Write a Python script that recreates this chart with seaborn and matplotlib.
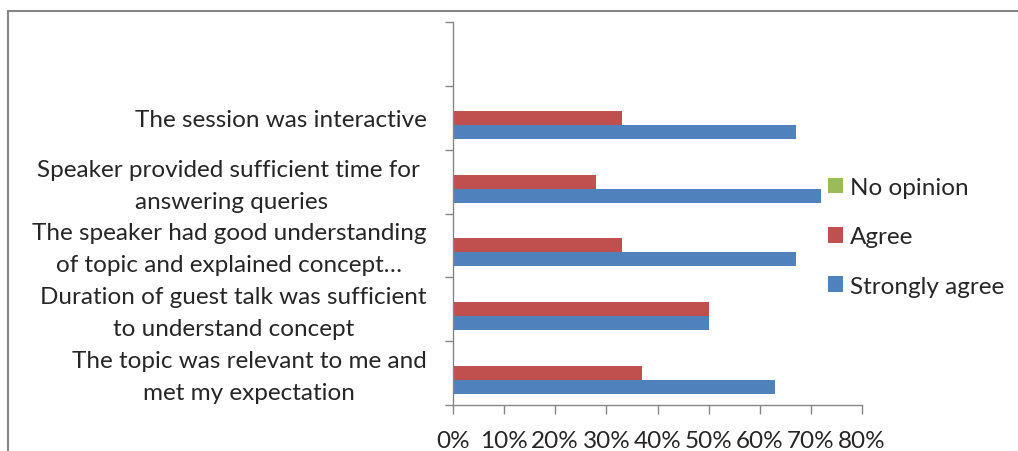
import matplotlib
matplotlib.use("Agg")
import matplotlib.pyplot as plt
import seaborn as sns
import pandas as pd
from matplotlib.lines import Line2D
from matplotlib.patches import Patch
from matplotlib.ticker import FixedLocator, PercentFormatter
from matplotlib.transforms import ScaledTranslation

# ---- data (top to bottom) ----
questions = [
    "The session was interactive",
    "Speaker provided sufficient time for \nanswering queries",
    "The speaker had good understanding\nof topic and explained concept…",
    "Duration of guest talk was sufficient\nto understand concept",
    "The topic was relevant to me and\nmet my expectation",
]
strongly_agree = [0.67, 0.72, 0.67, 0.50, 0.63]
agree = [0.33, 0.28, 0.33, 0.50, 0.37]
no_opinion = [0.0, 0.0, 0.0, 0.0, 0.0]
series_names = ["No opinion", "Agree", "Strongly agree"]
series_colors = ["#9BBB59", "#C0504D", "#4F81BD"]
x_ticks = [0.0, 0.1, 0.2, 0.3, 0.4, 0.5, 0.6, 0.7, 0.8]

rows = []
for q, n, a, s in zip(questions, no_opinion, agree, strongly_agree):
    rows.append((q, "No opinion", n))
    rows.append((q, "Agree", a))
    rows.append((q, "Strongly agree", s))
df = pd.DataFrame(rows, columns=["question", "response", "share"])

sns.set_style("white")
FONT = "Lato"
plt.rcParams["font.family"] = [FONT, "DejaVu Sans"]
FS = 17.5

W, H = 1018, 452
fig = plt.figure(figsize=(W / 100, H / 100), dpi=100)
ax = fig.add_axes([453 / W, 1 - 406 / H, (862 - 453) / W, (406 - 23) / H])

order = [" "] + questions
sns.barplot(
    data=df, y="question", x="share", hue="response", orient="h",
    order=order, hue_order=series_names,
    palette=dict(zip(series_names, series_colors)),
    width=0.656, gap=0, saturation=1, linewidth=0, dodge=True,
    legend=False, ax=ax,
)

ax.set_xlim(0, 0.8)
ax.set_ylim(len(order) - 0.5, -0.5)
ax.set_xlabel("")
ax.set_ylabel("")

# x axis
ax.xaxis.set_major_locator(FixedLocator(x_ticks))
ax.xaxis.set_major_formatter(PercentFormatter(1.0, decimals=0))
ax.tick_params(axis="x", which="major", direction="out", length=6.5, width=1,
               color="#868686", pad=11.5, labelsize=FS, bottom=True)
# y axis: tick marks at boundaries, labels at centers
ax.yaxis.set_major_locator(FixedLocator([i - 0.5 for i in range(len(order) + 1)]))
ax.yaxis.set_major_formatter(plt.NullFormatter())
ax.set_yticks(list(range(len(order))), labels=[""] + questions, minor=True)
ax.tick_params(axis="y", which="major", direction="out", length=6, width=1,
               color="#868686", left=True)
ax.tick_params(axis="y", which="minor", length=0, pad=19, labelsize=FS)
shift_up = ScaledTranslation(0, 4 / 100, fig.dpi_scale_trans)
for lab in ax.get_yticklabels(minor=True):
    lab.set_multialignment("center")
    lab.set_linespacing(1.65)
    if "\n" in lab.get_text():
        lab.set_transform(lab.get_transform() + shift_up)

for s in ["top", "right"]:
    ax.spines[s].set_visible(False)
for s in ["left", "bottom"]:
    ax.spines[s].set_color("#868686")
    ax.spines[s].set_linewidth(1)
ax.grid(False)

# legend
handles = [Patch(facecolor=c, edgecolor="none") for c in series_colors]
fig.legend(handles, series_names, loc="upper left",
           bbox_to_anchor=(828 / W, 1 - 178 / H), frameon=False,
           fontsize=FS, handlelength=0.62, handleheight=0.62,
           handletextpad=0.3, labelspacing=1.17, borderpad=0, borderaxespad=0)

# outer chart frame (left and top edges visible)
fig.add_artist(Line2D([8 / W, 8 / W], [0, 1 - 12 / H], transform=fig.transFigure,
                      color="#868686", linewidth=1.5))
fig.add_artist(Line2D([8 / W, 1], [1 - 12 / H, 1 - 12 / H], transform=fig.transFigure,
                      color="#868686", linewidth=1.5))

fig.savefig("out.png", dpi=100, facecolor="white")
